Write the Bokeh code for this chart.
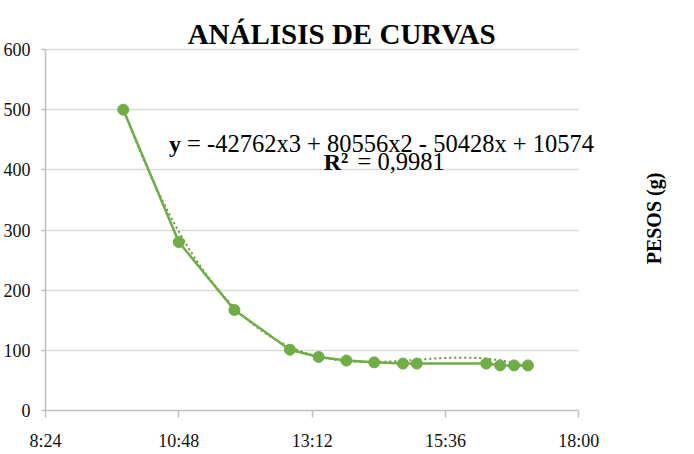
import numpy as np
from bokeh.plotting import figure
from bokeh.models import FixedTicker, Label, Grid
from bokeh.embed import file_html
from bokeh.resources import INLINE

# ---- data ----
times = ["9:48", "10:48", "11:48", "12:48", "13:19", "13:49", "14:19",
         "14:50", "15:05", "16:20", "16:35", "16:50", "17:05"]
pesos = [500, 280, 167, 101, 89, 83, 80, 78, 78, 78, 75, 75, 75]

x_ticks = [504, 648, 792, 936, 1080]          # minutes since midnight
x_tick_labels = ["8:24", "10:48", "13:12", "15:36", "18:00"]
y_ticks = [0, 100, 200, 300, 400, 500, 600]

# polynomial trendline coefficients shown on the chart (x in fraction of a day)
trend_coefs = [-42762, 80556, -50428, 10574]
equation_text = "= -42762x3 + 80556x2 - 50428x + 10574"
r2_text = "= 0,9981"

title_text = "ANÁLISIS DE CURVAS"
y_title = "PESOS (g)"

def to_min(t):
    h, m = t.split(":")
    return int(h) * 60 + int(m)

xs = [to_min(t) for t in times]

SERIF = "'Liberation Serif', 'Times New Roman', Times, serif"
GREEN = "#70ad47"

W, H = 694, 454
FL, FB = 43, 410                     # frame left / x-axis position (px)
PX_PER_MIN = 535.0 / 576.0
PX_PER_G = 361.0 / 600.0
x_end = x_ticks[0] + (W - FL) / PX_PER_MIN
y_end = FB / PX_PER_G

p = figure(width=W, height=H, output_backend="svg", toolbar_location=None,
           x_range=(x_ticks[0], x_end), y_range=(0, y_end),
           min_border_left=FL, min_border_right=0,
           min_border_top=0, min_border_bottom=H - FB)
p.outline_line_color = None
p.background_fill_color = "white"
p.border_fill_color = "white"

p.xaxis.ticker = FixedTicker(ticks=x_ticks)
p.xaxis.major_label_overrides = {k: v for k, v in zip(x_ticks, x_tick_labels)}
p.xaxis.bounds = (x_ticks[0], x_ticks[-1])
p.yaxis.ticker = FixedTicker(ticks=y_ticks)
p.yaxis.bounds = (y_ticks[0], y_ticks[-1])

for ax in (p.xaxis, p.yaxis):
    ax.axis_line_color = "#bfbfbf"
    ax.axis_line_width = 1.5
    ax.major_tick_line_color = "#bfbfbf"
    ax.major_tick_line_width = 1.5
    ax.minor_tick_line_color = None
    ax.major_tick_in = 0
    ax.major_label_text_font = SERIF
    ax.major_label_text_color = "#111111"
    ax.major_label_text_font_size = "18px"

p.xaxis.major_tick_out = 7
p.xaxis.major_label_standoff = 13
p.yaxis.major_tick_out = 4
p.yaxis.major_label_standoff = 11

p.xgrid.grid_line_color = None
GRID_COLOR = "#d9d9d9"
if "cross_bounds" in Grid.properties():
    p.ygrid.ticker = FixedTicker(ticks=y_ticks)
    p.ygrid.bounds = (y_ticks[0] - 1, y_ticks[-1] + 1)
    p.ygrid.cross_bounds = (x_ticks[0], x_ticks[-1])
    p.ygrid.grid_line_color = GRID_COLOR
    p.ygrid.grid_line_width = 1.5
else:
    p.ygrid.grid_line_color = None
    p.segment(x0=[x_ticks[0]] * len(y_ticks), x1=[x_ticks[-1]] * len(y_ticks),
              y0=y_ticks, y1=y_ticks, line_color=GRID_COLOR, line_width=1.5)

# trendline from the displayed equation
tx = np.linspace(xs[0], xs[-1], 200)
ty = np.polyval(trend_coefs, tx / 1440.0)
p.line(tx, ty, line_color="#5f9a3a", line_width=2, line_dash="2 3")

# data series
p.line(xs, pesos, line_color=GREEN, line_width=2.5)
p.scatter(xs, pesos, size=11, fill_color=GREEN, line_color=GREEN)

# page px -> data helpers for annotation placement
def dx(px):
    return x_ticks[0] + (px - FL) / PX_PER_MIN

def dy(py):
    return (FB - py) / PX_PER_G

p.add_layout(Label(x=dx(340), y=dy(33), text=title_text, text_font=SERIF,
                   text_font_size="29px", text_font_style="bold",
                   text_align="center", text_baseline="middle", text_color="black"))

p.add_layout(Label(x=dx(167), y=dy(143), text="y", text_font=SERIF,
                   text_font_size="24px", text_font_style="bold",
                   text_align="left", text_baseline="alphabetic", text_color="black"))
p.add_layout(Label(x=dx(185), y=dy(143), text=equation_text, text_font=SERIF,
                   text_font_size="24.5px", text_align="left",
                   text_baseline="alphabetic", text_color="black"))
p.add_layout(Label(x=dx(322), y=dy(161), text="R²", text_font=SERIF,
                   text_font_size="24px", text_font_style="bold",
                   text_align="left", text_baseline="alphabetic", text_color="black"))
p.add_layout(Label(x=dx(356), y=dy(161), text=r2_text, text_font=SERIF,
                   text_font_size="24.5px", text_align="left",
                   text_baseline="alphabetic", text_color="black"))

p.add_layout(Label(x=dx(653), y=dy(218), text=y_title, text_font=SERIF,
                   text_font_size="20px", text_font_style="bold", angle=np.pi / 2,
                   text_align="center", text_baseline="middle", text_color="black"))

open("out.html", "w").write(file_html(p, INLINE))
